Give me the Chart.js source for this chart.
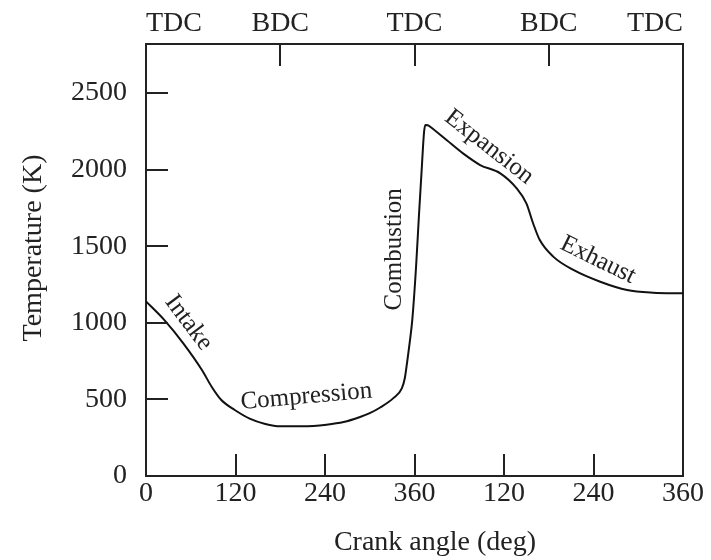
<!DOCTYPE html>
<html>
<head>
<meta charset="utf-8">
<script src="https://cdn.jsdelivr.net/npm/chart.js@4.4.1/dist/chart.umd.min.js"></script>
<style>
html, body { margin: 0; padding: 0; background: #fff; }
#chart { display: block; }
</style>
</head>
<body>
<canvas id="chart" width="711" height="560"></canvas>
<script>
// Engine cycle temperature vs crank angle
var crankAngle = [0, 25, 50, 75, 88, 101, 119, 139, 160, 180, 210, 242, 265, 287, 300, 314, 332, 343, 347, 350.5, 354, 357, 362, 366, 370, 372.7, 374.5, 378, 381, 403, 425, 448, 475, 497, 510, 519, 528, 546, 573, 609, 645, 680, 720];
var temperature = [1140, 1016, 866, 692, 583, 496, 431, 375, 340, 325, 325, 335, 352, 385, 410, 447, 510, 572, 638, 757, 888, 1018, 1358, 1704, 2030, 2239, 2291, 2290, 2280, 2193, 2106, 2030, 1976, 1878, 1780, 1650, 1540, 1432, 1345, 1268, 1214, 1197, 1193];

var angleTicks = [0, 120, 240, 360, 480, 600, 720];
var strokeTicks = [0, 180, 360, 540, 720];
var strokeNames = ['TDC', 'BDC', 'TDC', 'BDC', 'TDC'];
var tempTicks = [0, 500, 1000, 1500, 2000, 2500];

var phaseNames = ['Intake', 'Compression', 'Combustion', 'Expansion', 'Exhaust'];
var phaseAngle = [57, 215, 333, 460, 606];
var phaseTemp = [1000, 518, 1480, 2147, 1410];

var serif = '"Liberation Serif", "DejaVu Serif", serif';
var ink = '#222';

// label tilt (deg) for each phase name
var phaseTilt = [53, -5, -90, 38, 26];

function setTicks(list) {
	return function (scale) {
		scale.ticks = list.map(function (v) { return { value: v }; });
	};
}

// inward tick marks, phase labels and axis titles
var decor = {
	id: 'decor',
	afterDraw: function (chart) {
		var ctx = chart.ctx;
		var area = chart.chartArea;
		var sx = chart.scales.x, sy = chart.scales.y, st = chart.scales.x2;
		var len = 22;

		ctx.save();
		ctx.strokeStyle = ink;
		ctx.lineWidth = 2;
		ctx.beginPath();
		sy.ticks.forEach(function (t) {
			if (t.value <= sy.min || t.value >= sy.max) return;
			var y = Math.round(sy.getPixelForValue(t.value));
			ctx.moveTo(area.left, y);
			ctx.lineTo(area.left + len, y);
		});
		sx.ticks.forEach(function (t) {
			if (t.value <= sx.min || t.value >= sx.max) return;
			var x = Math.round(sx.getPixelForValue(t.value));
			ctx.moveTo(x, area.bottom);
			ctx.lineTo(x, area.bottom - len);
		});
		st.ticks.forEach(function (t) {
			if (t.value <= st.min || t.value >= st.max) return;
			var x = Math.round(st.getPixelForValue(t.value));
			ctx.moveTo(x, area.top);
			ctx.lineTo(x, area.top + len);
		});
		ctx.stroke();

		ctx.fillStyle = ink;
		ctx.textAlign = 'center';
		ctx.textBaseline = 'middle';
		ctx.font = '25px ' + serif;
		phaseNames.forEach(function (name, i) {
			ctx.save();
			ctx.translate(sx.getPixelForValue(phaseAngle[i]), sy.getPixelForValue(phaseTemp[i]));
			ctx.rotate(phaseTilt[i] * Math.PI / 180);
			ctx.fillText(name, 0, 0);
			ctx.restore();
		});

		ctx.font = '28px ' + serif;
		ctx.fillText('Crank angle (deg)', 435, 543);
		ctx.save();
		ctx.translate(34, 248);
		ctx.rotate(-Math.PI / 2);
		ctx.fillText('Temperature (K)', 0, 0);
		ctx.restore();
		ctx.restore();
	}
};

var points = crankAngle.map(function (a, i) { return { x: a, y: temperature[i] }; });

new Chart(document.getElementById('chart'), {
	type: 'line',
	data: {
		datasets: [{
			data: points,
			borderColor: '#111',
			borderWidth: 2,
			pointRadius: 0,
			fill: false,
			cubicInterpolationMode: 'monotone'
		}]
	},
	options: {
		responsive: false,
		animation: false,
		layout: { padding: 0 },
		plugins: { legend: { display: false }, tooltip: { enabled: false } },
		scales: {
			x: {
				type: 'linear',
				position: 'bottom',
				min: 0,
				max: 720,
				afterBuildTicks: setTicks(angleTicks),
				afterFit: function (scale) { scale.height = 84; },
				ticks: {
					padding: 1,
					color: ink,
					font: { family: serif, size: 28 },
					callback: function (v) { return String(v > 360 ? v - 360 : v); }
				},
				grid: { drawOnChartArea: false, drawTicks: false },
				border: { display: true, color: ink, width: 2 }
			},
			x2: {
				type: 'linear',
				position: 'top',
				min: 0,
				max: 720,
				afterBuildTicks: setTicks(strokeTicks),
				afterFit: function (scale) { scale.height = 44; },
				ticks: {
					padding: 4,
					align: 'inner',
					color: ink,
					font: { family: serif, size: 28 },
					callback: function (v) { return strokeNames[strokeTicks.indexOf(v)]; }
				},
				grid: { drawOnChartArea: false, drawTicks: false },
				border: { display: true, color: ink, width: 2 }
			},
			y: {
				type: 'linear',
				position: 'left',
				min: 0,
				max: 2820,
				afterBuildTicks: setTicks(tempTicks),
				afterFit: function (scale) { scale.width = 146; },
				ticks: {
					padding: 19,
					color: ink,
					font: { family: serif, size: 28 },
					callback: function (v) { return String(v); }
				},
				grid: { drawOnChartArea: false, drawTicks: false },
				border: { display: true, color: ink, width: 2 }
			},
			y2: {
				type: 'linear',
				position: 'right',
				afterFit: function (scale) { scale.width = 28; },
				ticks: { display: false },
				grid: { drawOnChartArea: false, drawTicks: false },
				border: { display: true, color: ink, width: 2 }
			}
		}
	},
	plugins: [decor]
});
</script>
</body>
</html>
